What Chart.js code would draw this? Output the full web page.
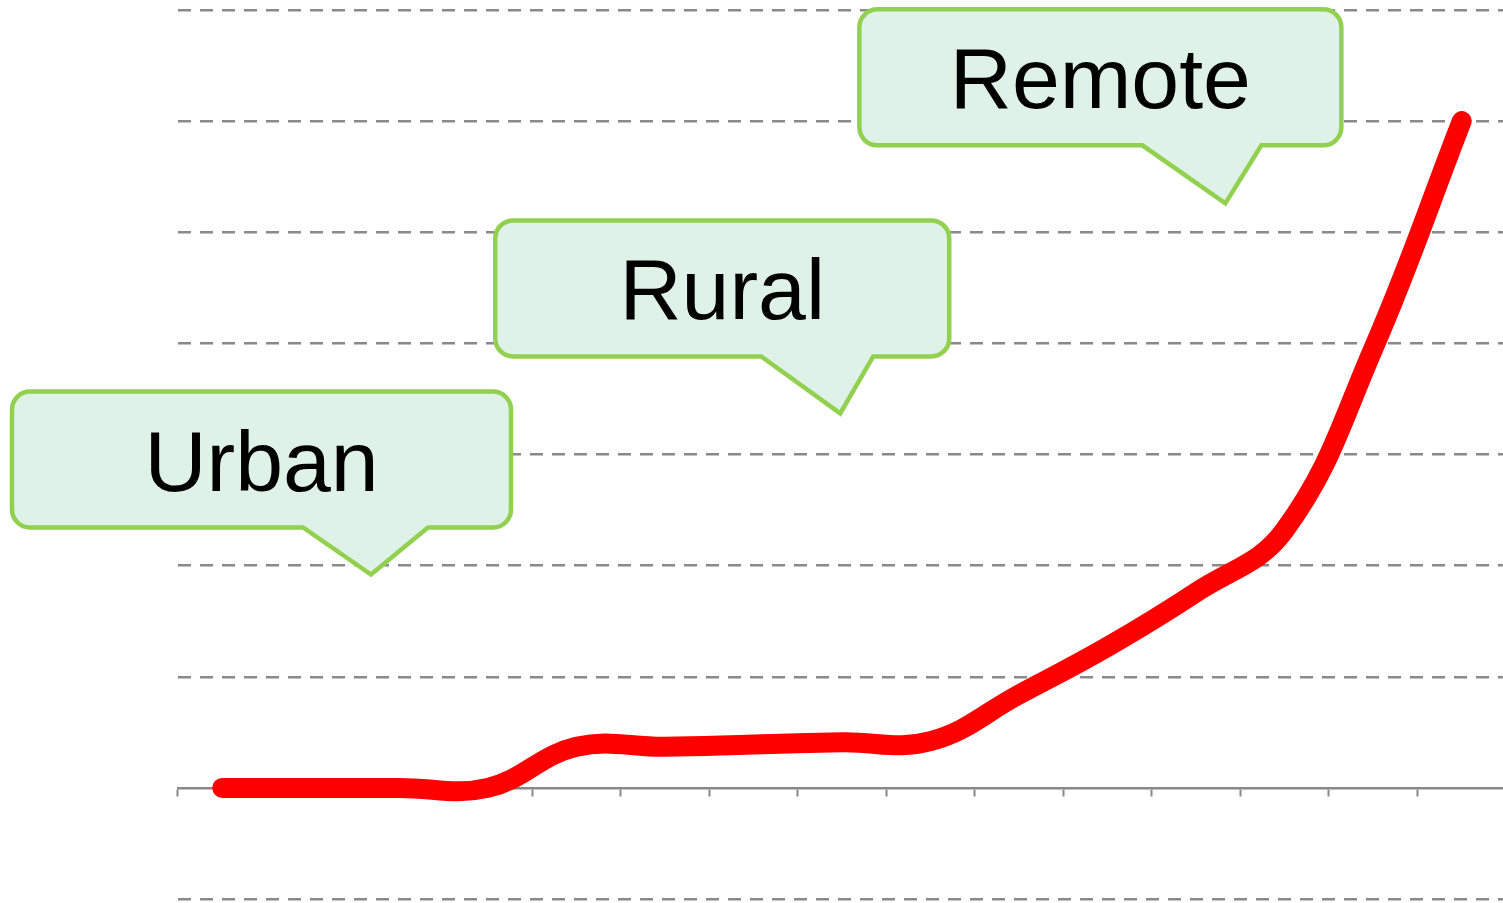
<!DOCTYPE html>
<html lang="en">
<head>
    <meta charset="UTF-8">
    <title>Urban / Rural / Remote</title>
    <script src="https://cdn.jsdelivr.net/npm/chart.js"></script>
    <style>
        html, body { margin: 0; padding: 0; overflow: hidden; background: #fff; }
        #wrap { width: 1506px; height: 903px; position: relative; }
    </style>
</head>
<body>
    <div id="wrap"><canvas id="chart"></canvas></div>

    <script>
        // chart data
        const categories = ['1', '2', '3', '4', '5', '6', '7', '8', '9', '10', '11', '12', '13', '14', '15'];
        const values = [0, 0, 0, 0, 0.37, 0.37, 0.39, 0.41, 0.42, 0.84, 1.27, 1.76, 2.32, 3.95, 6.0];
        const yTicks = [-1, 0, 1, 2, 3, 4, 5, 6, 7];

        // callout labels and where their pointers land (category index, value)
        const calloutLabels = ['Urban', 'Rural', 'Remote'];
        const calloutTipIndex = [1.68, 6.98, 11.33];
        const calloutTipValue = [1.92, 3.37, 5.26];

        // box shape around each tip, in px relative to the tip
        const calloutShapes = [
            { left: -359, right: 140, top: -183, bottom: -47, tailL: -68, tailR: 57 },
            { left: -345, right: 109, top: -193, bottom: -57, tailL: -79, tailR: 33 },
            { left: -366, right: 116, top: -194, bottom: -58, tailL: -83, tailR: 36 }
        ];

        const calloutPlugin = {
            id: 'callouts',
            afterDraw(chart) {
                const ctx = chart.ctx;
                const xs = chart.scales.x, ys = chart.scales.y;
                calloutLabels.forEach((label, i) => {
                    const tx = xs.getPixelForValue(calloutTipIndex[i]);
                    const ty = ys.getPixelForValue(calloutTipValue[i]);
                    const s = calloutShapes[i];
                    const l = tx + s.left, r = tx + s.right, t = ty + s.top, b = ty + s.bottom;
                    const rad = 18;
                    ctx.save();
                    ctx.beginPath();
                    ctx.moveTo(l + rad, t);
                    ctx.lineTo(r - rad, t);
                    ctx.arcTo(r, t, r, t + rad, rad);
                    ctx.lineTo(r, b - rad);
                    ctx.arcTo(r, b, r - rad, b, rad);
                    ctx.lineTo(tx + s.tailR, b);
                    ctx.lineTo(tx, ty);
                    ctx.lineTo(tx + s.tailL, b);
                    ctx.lineTo(l + rad, b);
                    ctx.arcTo(l, b, l, b - rad, rad);
                    ctx.lineTo(l, t + rad);
                    ctx.arcTo(l, t, l + rad, t, rad);
                    ctx.closePath();
                    ctx.fillStyle = '#def2e8';
                    ctx.fill();
                    ctx.lineWidth = 4.5;
                    ctx.lineJoin = 'miter';
                    ctx.strokeStyle = '#92d050';
                    ctx.stroke();

                    ctx.fillStyle = '#000';
                    ctx.font = '86px "Liberation Sans", Arial, sans-serif';
                    ctx.textAlign = 'center';
                    ctx.textBaseline = 'alphabetic';
                    ctx.fillText(label, (l + r) / 2, (t + b) / 2 + 31);
                    ctx.restore();
                });
            }
        };

        new Chart(document.getElementById('chart'), {
            type: 'line',
            data: {
                labels: categories,
                datasets: [{
                    data: values,
                    borderColor: '#ff0000',
                    borderWidth: 20,
                    borderCapStyle: 'round',
                    borderJoinStyle: 'round',
                    pointRadius: 0,
                    tension: 0.4,
                    fill: false
                }]
            },
            options: {
                responsive: true,
                maintainAspectRatio: false,
                animation: false,
                layout: { padding: { left: 178, top: 10, bottom: 4, right: 0 } },
                plugins: {
                    legend: { display: false },
                    tooltip: { enabled: false }
                },
                scales: {
                    x: {
                        position: { y: 0 },
                        offset: true,
                        ticks: { display: false },
                        grid: {
                            offset: true,
                            drawOnChartArea: false,
                            drawTicks: true,
                            tickLength: 7,
                            tickWidth: 2,
                            tickColor: '#888888'
                        },
                        border: { display: true, color: '#888888', width: 2.5 }
                    },
                    y: {
                        min: yTicks[0],
                        max: yTicks[yTicks.length - 1],
                        afterBuildTicks: scale => { scale.ticks = yTicks.map(v => ({ value: v })); },
                        ticks: { display: false },
                        grid: {
                            // the zero line is the solid x axis, so skip the dashed one there
                            color: c => (c.tick && c.tick.value === 0) ? 'rgba(0,0,0,0)' : '#8a8a8a',
                            lineWidth: 2.5,
                            drawTicks: false
                        },
                        border: { display: false, dash: [13, 9] }
                    }
                }
            },
            plugins: [calloutPlugin]
        });
    </script>
</body>
</html>
